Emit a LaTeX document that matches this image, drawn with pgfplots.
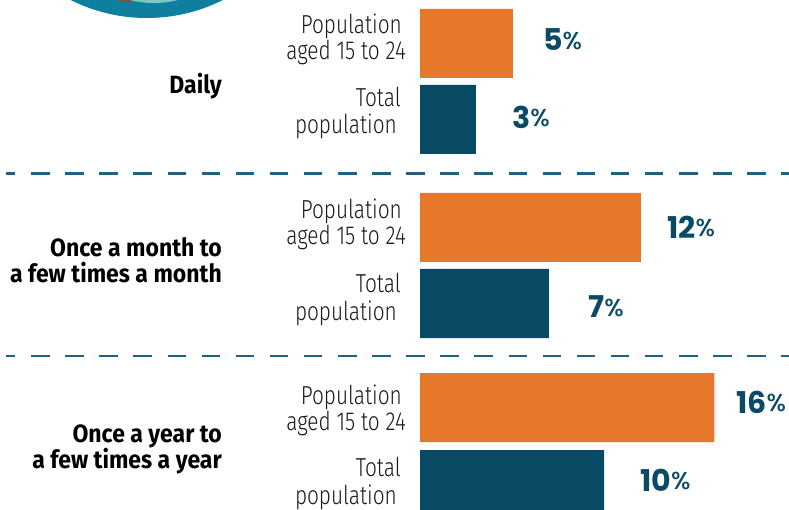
\documentclass[border=0pt]{standalone}
\usepackage{pgfplots}
\pgfplotsset{compat=1.18}
\usepackage{fontspec}
\setmainfont{Fira Sans}[UprightFont=* Light,BoldFont=* Bold,FakeStretch=0.80]
\newfontfamily\catfont{Fira Sans}[UprightFont=* Bold,FakeStretch=0.92]
\newfontfamily\numfont{Poppins}[BoldFont=* Bold]
\newfontfamily\pctfont{Poppins Medium}
\definecolor{orangebar}{HTML}{E5782B}
\definecolor{navybar}{HTML}{0A4A65}
\definecolor{dashc}{HTML}{1F6282}
\definecolor{ringc}{HTML}{0F7F9F}
\definecolor{innerc}{HTML}{7CC8C4}
\definecolor{redc}{HTML}{8E4A52}
\newcommand{\pct}[1]{{\numfont\bfseries\fontsize{30}{30}\selectfont #1}{\pctfont\fontsize{24.5}{24.5}\selectfont\raisebox{1.5pt}{\%}}}
\newcommand{\rk}{\hspace*{4pt}\mbox{}}
\begin{document}
\begin{tikzpicture}
\begin{axis}[
  at={(0,0)},anchor=south west,
  width=789pt,height=510pt,scale only axis,
  xmin=-22.826,xmax=20.054,
  ymin=0,ymax=510,y dir=reverse,
  axis lines=none,
  clip=true,
  xbar,bar width=69pt,
  /pgf/bar shift=0pt,
]
% ring decoration at top
\fill[ringc] (axis cs:-14.85,-151) circle [x radius=9.2, y radius=169];
\fill[redc] (axis cs:-16.41,-5) rectangle (axis cs:-15.6,2.5);
\fill[innerc] (axis cs:-14.46,-94.5) circle [x radius=5.3, y radius=97.5];
% data
\addplot+[draw=none,fill=orangebar] coordinates {(5.05,43.5) (12.0,227.5) (16.0,407.5)};
\addplot+[draw=none,fill=navybar] coordinates {(3.04,119.5) (7.0,303.5) (10.0,484.5)};
% separators
\draw[dashc,line width=2.8pt,dash pattern=on 18.5pt off 15.6pt,dash phase=9pt] (axis cs:-22.5,173.7) -- (axis cs:20.054,173.7);
\draw[dashc,line width=2.8pt,dash pattern=on 18.5pt off 15.6pt,dash phase=9pt] (axis cs:-22.5,356) -- (axis cs:20.054,356);
\end{axis}
% labels in pixel coordinates (top-left origin)
\begin{scope}[shift={(0,510pt)},x=1pt,y=-1pt]
\tikzset{lab/.style={align=right,anchor=east,inner sep=0pt,font=\fontsize{26}{27}\selectfont,text=black!90},
 cat/.style={align=right,anchor=east,inner sep=0pt,font=\catfont\fontsize{25}{26.5}\selectfont,text=black},
 val/.style={anchor=west,inner sep=0pt,text=navybar}}
\node[cat] at (222,86) {Daily};
\node[cat] at (222,260) {Once a month to\\a few times a month};
\node[cat] at (222,449.5) {Once a year to\\a few times a year};
\node[lab] at (406,39) {Population\rk\\[-1pt]aged 15 to 24};
\node[lab] at (401,113) {Total\\[0.5pt]population\rk};
\node[lab] at (406,224) {Population\rk\\[-1pt]aged 15 to 24};
\node[lab] at (401,299.5) {Total\\[0.5pt]population\rk};
\node[lab] at (406,410) {Population\rk\\[-1pt]aged 15 to 24};
\node[lab] at (401,483.5) {Total\\[0.5pt]population\rk};
\node[val] at (543,40) {\pct{5}};
\node[val] at (512,117) {\pct{3}};
\node[val] at (667,227) {\pct{12}};
\node[val] at (588,307) {\pct{7}};
\node[val] at (736,402) {\pct{16}};
\node[val] at (640,480) {\pct{10}};
\end{scope}
\end{tikzpicture}
\end{document}
